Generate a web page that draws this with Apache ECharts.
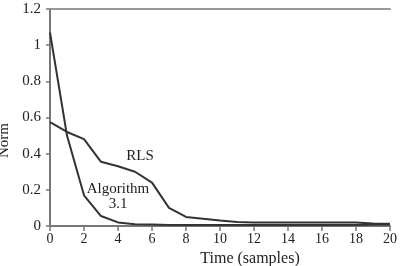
<!DOCTYPE html>
<html><head><meta charset="utf-8">
<script src="https://cdn.jsdelivr.net/npm/echarts@6/dist/echarts.min.js"></script>
<style>html,body{margin:0;padding:0;background:#fff}#c{width:402px;height:266px}</style>
</head><body><div id="c"></div>
<script>
const samples = [0,1,2,3,4,5,6,7,8,9,10,11,12,13,14,15,16,17,18,19,20];
const algorithm31 = [1.07,0.50,0.17,0.055,0.02,0.01,0.008,0.006,0.005,0.005,0.005,0.005,0.005,0.005,0.005,0.005,0.005,0.005,0.005,0.008,0.008];
const rls = [0.575,0.52,0.48,0.355,0.33,0.30,0.24,0.10,0.05,0.04,0.03,0.022,0.02,0.02,0.02,0.02,0.02,0.02,0.019,0.014,0.012];
const xTicks = [0,2,4,6,8,10,12,14,16,18,20];
const yTicks = [0,0.2,0.4,0.6,0.8,1,1.2];

const font = 'Liberation Serif';
const chart = echarts.init(document.getElementById('c'), null, {renderer:'canvas'});
const axisCol = '#777';
chart.setOption({
  animation:false,
  backgroundColor:'#fff',
  grid:{left:50,right:12,top:9,bottom:40,containLabel:false,outerBoundsMode:'none'},
  xAxis:[{
    type:'value',min:0,max:20,interval:2,
    name:'Time (samples)',nameLocation:'middle',nameGap:20,
    nameTextStyle:{fontFamily:font,fontSize:16,color:'#222',padding:[0,0,0,60]},
    axisLine:{lineStyle:{color:axisCol,width:2}},
    axisTick:{show:true,length:5,lineStyle:{color:axisCol,width:1.5}},
    axisLabel:{fontFamily:font,fontSize:14,color:'#222',margin:6,formatter:v=>xTicks.includes(v)?String(v):''},
    splitLine:{show:false}
  },{
    type:'value',min:0,max:20,position:'top',
    axisLine:{show:true,lineStyle:{color:'#999',width:2}},
    axisTick:{show:false},axisLabel:{show:false},splitLine:{show:false}
  }],
  yAxis:{
    type:'value',min:0,max:1.2,interval:0.2,
    name:'Norm',nameLocation:'middle',nameGap:32,nameRotate:90,
    nameTextStyle:{fontFamily:font,fontSize:15,color:'#222',padding:[0,46,0,0]},
    axisLine:{show:true,lineStyle:{color:axisCol,width:2}},
    axisTick:{show:true,length:4,lineStyle:{color:axisCol,width:1.5}},
    axisLabel:{fontFamily:font,fontSize:15,color:'#222',margin:9,
      formatter:v=>{const t=yTicks.find(y=>Math.abs(y-v)<1e-9);return t===undefined?'':String(t);}},
    splitLine:{show:false}
  },
  series:[{
    type:'line',name:'Algorithm 3.1',data:samples.map((x,i)=>[x,algorithm31[i]]),
    showSymbol:false,lineStyle:{color:'#333',width:2}
  },{
    type:'line',name:'RLS',data:samples.map((x,i)=>[x,rls[i]]),
    showSymbol:false,lineStyle:{color:'#333',width:2}
  }]
});
const p1 = chart.convertToPixel({gridIndex:0},[5.3,0.385]);
const p2 = chart.convertToPixel({gridIndex:0},[4,0.205]);
const p3 = chart.convertToPixel({gridIndex:0},[4,0.12]);
const lf = '15px "Liberation Serif"';
chart.setOption({graphic:[
  {type:'text',x:p1[0],y:p1[1],style:{text:'RLS',font:lf,fill:'#222',align:'center',verticalAlign:'middle'}},
  {type:'text',x:p2[0],y:p2[1],style:{text:'Algorithm',font:lf,fill:'#222',align:'center',verticalAlign:'middle'}},
  {type:'text',x:p3[0],y:p3[1],style:{text:'3.1',font:lf,fill:'#222',align:'center',verticalAlign:'middle'}}
]});
</script></body></html>
